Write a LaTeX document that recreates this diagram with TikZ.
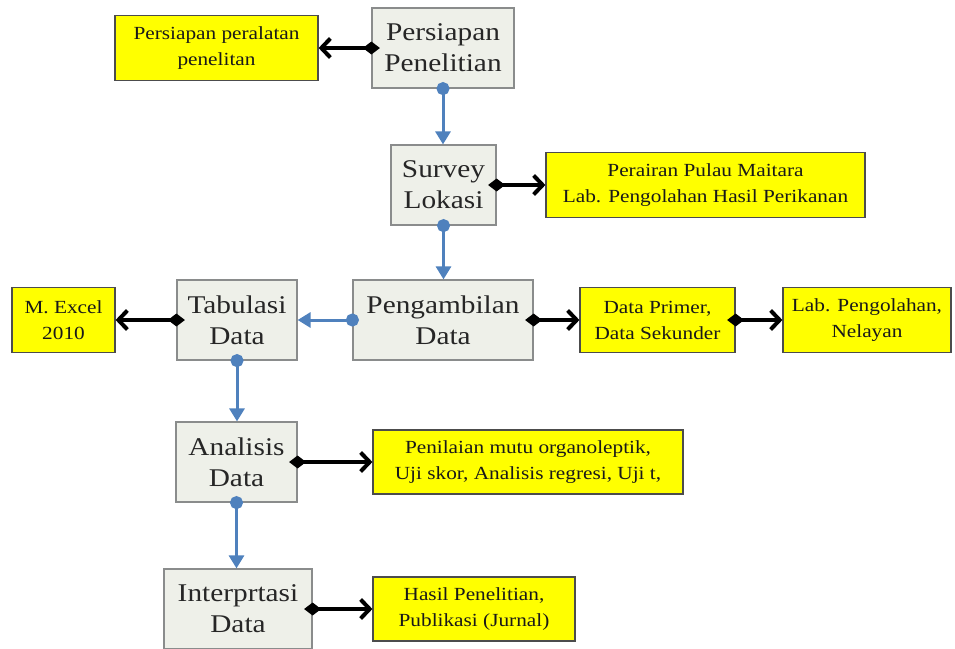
\documentclass[tikz,border=0pt]{standalone}
\usepackage{fontspec}
\setmainfont{Liberation Serif}[FakeStretch=1.15]
\usetikzlibrary{arrows.meta}
\definecolor{boxgray}{HTML}{EEF0E9}
\definecolor{boxline}{HTML}{8A8C8C}
\definecolor{kuning}{HTML}{FFFF00}
\definecolor{alurblue}{HTML}{4F81BD}

\begin{document}
\begin{tikzpicture}[x=1pt, y=-1pt,
    tahap/.style={draw=boxline, line width=1.2pt, fill=boxgray, inner sep=0pt, minimum height=80pt, align=center, text=black!85, font=\fontsize{25.5}{31}\selectfont},
    ket/.style={draw=black!70, line width=1.2pt, fill=kuning, inner sep=0pt, minimum height=65pt, align=center, text=black!90, font=\fontsize{18.5}{26}\selectfont},
    alur/.style={{Circle[length=13pt]}-{Triangle[length=13pt,width=15pt]}, line width=3pt, alurblue, shorten <=-6.5pt},
    arr/.style={{Diamond[length=17pt,width=13pt]}-{Straight Barb[length=9pt,width=19pt,line width=4pt]}, line width=4pt, black, shorten <=-8.5pt}
]
\useasboundingbox (0,0) rectangle (955,648);

\node[tahap, minimum width=142pt] (siap) at (443,48) {Persiapan\\Penelitian};
\node[ket, minimum width=203pt] (alat) at (216.5,48) {Persiapan peralatan\\penelitan};
\node[tahap, minimum width=105pt] (survey) at (443.5,185) {Survey\\Lokasi};
\node[ket, minimum width=319pt] (lokasi) at (705.5,185) {Perairan Pulau Maitara\\Lab. Pengolahan Hasil Perikanan};
\node[tahap, minimum width=180pt] (ambil) at (443,320) {Pengambilan\\Data};
\node[tahap, minimum width=120pt] (tabulasi) at (237,320) {Tabulasi\\Data};
\node[ket, minimum width=103pt] (excel) at (63.5,320) {M. Excel\\2010};
\node[ket, minimum width=155pt] (primer) at (657.5,320) {Data Primer,\\Data Sekunder};
\node[ket, minimum width=168pt] (lab) at (867,320) {Lab. Pengolahan,\\Nelayan};
\node[tahap, minimum width=121pt] (analisis) at (236.5,462) {Analisis\\Data};
\node[ket, minimum width=310pt, minimum height=64pt] (uji) at (528,462) {Penilaian mutu organoleptik,\\Uji skor, Analisis regresi, Uji t,};
\node[tahap, minimum width=148pt] (interp) at (238,609) {Interprtasi\\Data};
\node[ket, minimum width=202pt, minimum height=64pt] (hasil) at (474,609) {Hasil Penelitian,\\Publikasi (Jurnal)};

\draw[arr] (siap.west) -- (alat.east);
\draw[alur] (siap.south) -- (siap.south |- survey.north);
\draw[arr] (survey.east) -- (lokasi.west);
\draw[alur] (survey.south) -- (survey.south |- ambil.north);
\draw[alur] (ambil.west) -- (tabulasi.east);
\draw[arr] (ambil.east) -- (primer.west);
\draw[arr] (primer.east) -- (lab.west);
\draw[arr] (tabulasi.west) -- (excel.east);
\draw[alur] (tabulasi.south) -- (tabulasi.south |- analisis.north);
\draw[arr] (analisis.east) -- (uji.west);
\draw[alur] (analisis.south) -- (analisis.south |- interp.north);
\draw[arr] (interp.east) -- (hasil.west);
\end{tikzpicture}
\end{document}
